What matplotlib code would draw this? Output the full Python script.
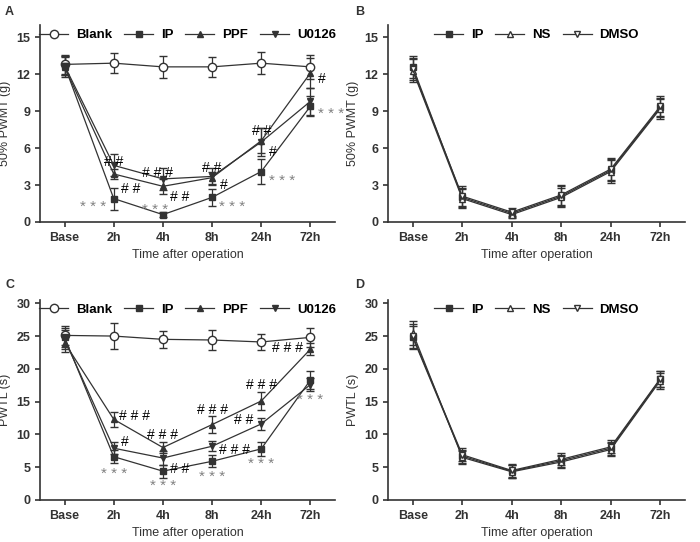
import matplotlib
matplotlib.use("Agg")
import matplotlib.pyplot as plt
from matplotlib.lines import Line2D

times = ["Base", "2h", "4h", "8h", "24h", "72h"]
A_blank = [12.8, 12.9, 12.6, 12.6, 12.9, 12.6]
A_ip = [12.7, 1.9, 0.6, 2.0, 4.1, 9.4]
A_ppf = [12.6, 3.9, 2.9, 3.6, 6.6, 12.1]
A_u = [12.7, 4.6, 3.5, 3.7, 6.5, 9.8]
A_err_blank = [0.8, 0.8, 0.9, 0.8, 0.9, 1.0]
A_err_ip = [0.8, 0.9, 0.2, 0.7, 1.0, 0.8]
A_err_ppf = [0.8, 0.4, 0.6, 0.5, 1.0, 1.2]
A_err_u = [0.8, 0.9, 0.9, 0.7, 1.1, 1.1]
B_ip = [12.6, 2.0, 0.7, 2.1, 4.2, 9.3]
B_ns = [12.3, 1.9, 0.6, 2.0, 4.1, 9.2]
B_dmso = [12.4, 2.1, 0.8, 2.2, 4.3, 9.4]
B_err = [0.9, 0.8, 0.3, 0.8, 0.9, 0.8]
C_blank = [25.1, 25.0, 24.5, 24.4, 24.1, 24.8]
C_ip = [24.8, 6.6, 4.4, 5.9, 7.8, 18.3]
C_ppf = [24.0, 12.3, 8.0, 11.5, 15.1, 23.0]
C_u = [24.5, 7.9, 6.4, 8.2, 11.6, 17.6]
C_err_blank = [1.5, 2.0, 1.3, 1.5, 1.2, 1.5]
C_err_ip = [1.5, 1.0, 1.0, 0.9, 1.1, 1.4]
C_err_ppf = [1.5, 1.1, 0.8, 1.3, 1.4, 0.9]
C_err_u = [1.5, 0.9, 1.0, 0.8, 0.9, 1.0]
D_ip = [24.8, 6.7, 4.4, 6.0, 7.9, 18.4]
D_ns = [25.5, 6.5, 4.3, 5.8, 7.7, 18.2]
D_dmso = [25.0, 6.9, 4.5, 6.2, 8.1, 18.5]
D_err = [1.8, 1.0, 1.0, 0.9, 1.0, 1.2]

A_ann = [(1, 4.9, "# #", "center", "k"), (1.15, 2.7, "# #", "left", "k"), (1.9, 4.0, "# # #", "center", "k"),
         (2.15, 2.0, "# #", "left", "k"), (3.0, 4.4, "# #", "center", "k"), (3.15, 3.0, "#", "left", "k"),
         (4.0, 7.4, "# #", "center", "k"), (4.15, 5.7, "#", "left", "k"), (5.15, 11.6, "#", "left", "k"),
         (0.85, 1.2, "* * *", "right", "0.5"), (1.85, 1.0, "* * *", "center", "0.5"), (3.15, 1.2, "* * *", "left", "0.5"),
         (4.15, 3.3, "* * *", "left", "0.5"), (5.15, 8.8, "* * *", "left", "0.5")]
C_ann = [(1.1, 12.8, "# # #", "left", "k"), (1.15, 8.8, "#", "left", "k"), (2.0, 9.9, "# # #", "center", "k"),
         (2.15, 4.8, "# #", "left", "k"), (3.0, 13.8, "# # #", "center", "k"), (3.15, 7.7, "# # #", "left", "k"),
         (4.0, 17.6, "# # #", "center", "k"), (3.85, 12.2, "# #", "right", "k"), (4.85, 23.2, "# # #", "right", "k"),
         (1.0, 4.0, "* * *", "center", "0.5"), (2.0, 2.2, "* * *", "center", "0.5"), (3.0, 3.5, "* * *", "center", "0.5"),
         (4.0, 5.5, "* * *", "center", "0.5"), (5.0, 15.2, "* * *", "center", "0.5")]

plt.rcParams['font.family'] = ['Liberation Sans', 'DejaVu Sans']
plt.rcParams['font.weight'] = 'bold'
fig = plt.figure(figsize=(7, 5.42), dpi=100)
W, H = 700, 542
lc = "#333333"

def mkax(l, b, r, t):
    return fig.add_axes([l / W, 1 - b / H, (r - l) / W, (b - t) / H])

def style(ax, ylim, yticks, ylabel):
    ax.set_xlim(-0.5, 5.5)
    ax.set_ylim(*ylim)
    ax.set_yticks(yticks)
    ax.set_xticks(range(6))
    ax.set_xticklabels(times)
    for s in ["top", "right"]:
        ax.spines[s].set_visible(False)
    for s in ["left", "bottom"]:
        ax.spines[s].set_color(lc)
        ax.spines[s].set_linewidth(1.2)
    ax.tick_params(labelsize=9, colors=lc, width=1.2)
    ax.set_ylabel(ylabel, fontsize=9, color=lc)
    ax.set_xlabel("Time after operation", fontsize=9, color=lc)

def series(ax, y, e, marker, label, mfc, ms=5):
    ax.errorbar(range(6), y, yerr=e, color=lc, lw=0.9, marker=marker, ms=ms, mfc=mfc,
                mec=lc, capsize=3, elinewidth=0.9)
    return Line2D([], [], color=lc, lw=0.9, marker=marker, ms=ms, mfc=mfc, mec=lc, label=label)

def leg(ax, hs):
    ax.legend(handles=hs, loc="upper center", ncol=4, frameon=False, fontsize=9.5, handlelength=2.2,
              columnspacing=0.9, handletextpad=0.6, bbox_to_anchor=(0.5, 1.04))

def ann(ax, lst):
    for x, y, t, ha, c in lst:
        ax.text(x, y, t, ha=ha, va="center", fontsize=10 if "#" in t else 11, color=c,
                fontweight="normal")

axA = mkax(40, 222, 335, 25)
hs = [series(axA, A_blank, A_err_blank, "o", "Blank", "white", 6),
      series(axA, A_ip, A_err_ip, "s", "IP", lc),
      series(axA, A_ppf, A_err_ppf, "^", "PPF", lc, 4.5),
      series(axA, A_u, A_err_u, "v", "U0126", lc, 4.5)]
style(axA, (0, 16), [0, 3, 6, 9, 12, 15], "50% PWMT (g)")
leg(axA, hs)
ann(axA, A_ann)

axB = mkax(388, 222, 685, 25)
hs = [series(axB, B_ip, B_err, "s", "IP", lc),
      series(axB, B_ns, B_err, "^", "NS", "white"),
      series(axB, B_dmso, B_err, "v", "DMSO", "white")]
style(axB, (0, 16), [0, 3, 6, 9, 12, 15], "50% PWMT (g)")
leg(axB, hs)

axC = mkax(40, 500, 335, 300)
hs = [series(axC, C_blank, C_err_blank, "o", "Blank", "white", 6),
      series(axC, C_ip, C_err_ip, "s", "IP", lc),
      series(axC, C_ppf, C_err_ppf, "^", "PPF", lc, 4.5),
      series(axC, C_u, C_err_u, "v", "U0126", lc, 4.5)]
style(axC, (0, 30.5), [0, 5, 10, 15, 20, 25, 30], "PWTL (s)")
leg(axC, hs)
ann(axC, C_ann)

axD = mkax(388, 500, 685, 300)
hs = [series(axD, D_ip, D_err, "s", "IP", lc),
      series(axD, D_ns, D_err, "^", "NS", "white"),
      series(axD, D_dmso, D_err, "v", "DMSO", "white")]
style(axD, (0, 30.5), [0, 5, 10, 15, 20, 25, 30], "PWTL (s)")
leg(axD, hs)

for lab, x, y in [("A", 5, 12), ("B", 355, 12), ("C", 5, 285), ("D", 355, 285)]:
    fig.text(x / W, 1 - y / H, lab, fontsize=9, color=lc, va="center")

fig.savefig("out.png", dpi=100)
